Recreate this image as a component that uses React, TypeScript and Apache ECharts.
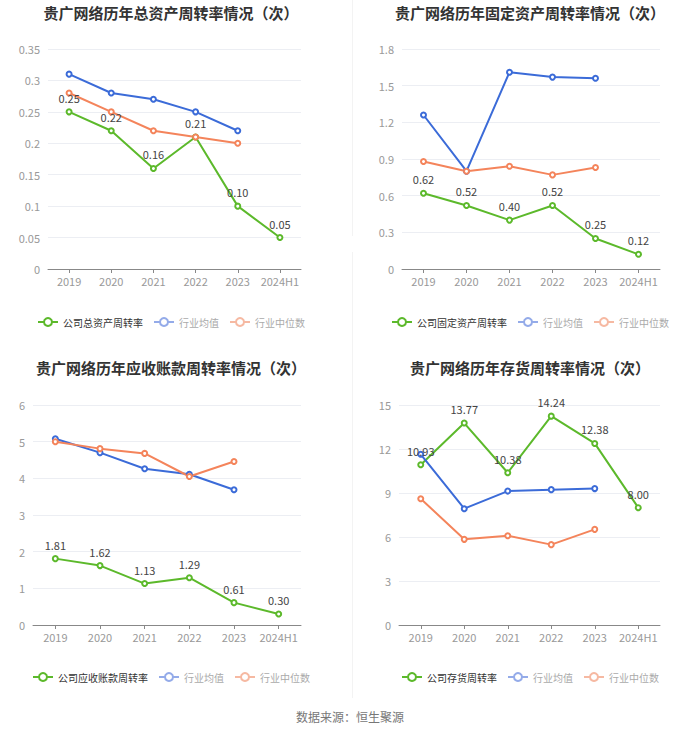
import React, { useEffect, useRef } from "react";
import * as echarts from "echarts";

const categories = ["2019", "2020", "2021", "2022", "2023", "2024H1"];

const totalAssetCompany = [0.25, 0.22, 0.16, 0.21, 0.1, 0.05];
const totalAssetAvg = [0.31, 0.28, 0.27, 0.25, 0.22];
const totalAssetMedian = [0.28, 0.25, 0.22, 0.21, 0.2];

const fixedAssetCompany = [0.62, 0.52, 0.4, 0.52, 0.25, 0.12];
const fixedAssetAvg = [1.26, 0.8, 1.61, 1.57, 1.56];
const fixedAssetMedian = [0.88, 0.8, 0.84, 0.77, 0.83];

const receivableCompany = [1.81, 1.62, 1.13, 1.29, 0.61, 0.3];
const receivableAvg = [5.08, 4.7, 4.26, 4.11, 3.69];
const receivableMedian = [5.0, 4.81, 4.68, 4.05, 4.46];

const inventoryCompany = [10.93, 13.77, 10.38, 14.24, 12.38, 8.0];
const inventoryAvg = [11.64, 7.93, 9.13, 9.23, 9.3];
const inventoryMedian = [8.61, 5.84, 6.09, 5.48, 6.52];

const GREEN = "#5cb92b";
const BLUE = "#3b6bd8";
const ORANGE = "#f4845b";
const FONT = "'Noto Sans CJK SC', 'Noto Sans', sans-serif";

type ChartDef = {
  title: string;
  companyName: string;
  company: number[];
  avg: number[];
  median: number[];
  max: number;
  interval: number;
  box: { left: number; top: number; width: number; height: number };
  grid: { left: number; right: number; top: number; bottom: number };
  titleTop: number;
  legendTop: number;
};

const charts: ChartDef[] = [
  {
    title: "贵广网络历年总资产周转率情况（次）",
    companyName: "公司总资产周转率",
    company: totalAssetCompany,
    avg: totalAssetAvg,
    median: totalAssetMedian,
    max: 0.35,
    interval: 0.05,
    box: { left: 0, top: 0, width: 342, height: 345 },
    grid: { left: 48, right: 41, top: 49, bottom: 76 },
    titleTop: 0,
    legendTop: 312,
  },
  {
    title: "贵广网络历年固定资产周转率情况（次）",
    companyName: "公司固定资产周转率",
    company: fixedAssetCompany,
    avg: fixedAssetAvg,
    median: fixedAssetMedian,
    max: 1.8,
    interval: 0.3,
    box: { left: 360, top: 0, width: 340, height: 345 },
    grid: { left: 42, right: 40, top: 49, bottom: 76 },
    titleTop: 0,
    legendTop: 312,
  },
  {
    title: "贵广网络历年应收账款周转率情况（次）",
    companyName: "公司应收账款周转率",
    company: receivableCompany,
    avg: receivableAvg,
    median: receivableMedian,
    max: 6,
    interval: 1,
    box: { left: 0, top: 345, width: 342, height: 345 },
    grid: { left: 33, right: 41, top: 60, bottom: 65 },
    titleTop: 10,
    legendTop: 322,
  },
  {
    title: "贵广网络历年存货周转率情况（次）",
    companyName: "公司存货周转率",
    company: inventoryCompany,
    avg: inventoryAvg,
    median: inventoryMedian,
    max: 15,
    interval: 3,
    box: { left: 360, top: 345, width: 340, height: 345 },
    grid: { left: 39, right: 40, top: 60, bottom: 65 },
    titleTop: 10,
    legendTop: 322,
  },
];

function buildOption(c: ChartDef): any {
  const lineSeries = (name: string, data: number[], color: string, label: boolean) => ({
    name,
    type: "line",
    data,
    symbol: "emptyCircle",
    symbolSize: 5,
    showSymbol: true,
    lineStyle: { color, width: 2 },
    itemStyle: { color, borderColor: color, borderWidth: 1.5 },
    label: label
      ? {
          show: true,
          position: "top",
          color: "#444",
          fontSize: 11,
          fontFamily: FONT,
          formatter: (p: any) => Number(p.value).toFixed(2),
        }
      : { show: false },
  });
  return {
    animation: false,
    title: {
      text: c.title,
      left: "center",
      top: c.titleTop,
      textStyle: { fontSize: 15, fontWeight: "bold", color: "#333", fontFamily: FONT },
    },
    legend: {
      left: "center",
      top: c.legendTop,
      itemWidth: 20,
      itemHeight: 10,
      itemGap: 10,
      textStyle: { fontSize: 10, fontFamily: FONT, color: "#333" },
      data: [
        { name: c.companyName, textStyle: { color: "#333" } },
        {
          name: "行业均值",
          textStyle: { color: "#aaa" },
          lineStyle: { color: "#94abe9" },
          itemStyle: { color: "#94abe9", borderColor: "#94abe9" },
        },
        {
          name: "行业中位数",
          textStyle: { color: "#aaa" },
          lineStyle: { color: "#f6b9a2" },
          itemStyle: { color: "#f6b9a2", borderColor: "#f6b9a2" },
        },
      ],
    },
    grid: c.grid,
    xAxis: {
      type: "category",
      data: categories,
      boundaryGap: true,
      axisLine: { lineStyle: { color: "#888" } },
      axisTick: { show: true, alignWithLabel: true, interval: 0, length: 4, lineStyle: { color: "#888" } },
      axisLabel: { color: "#999", fontSize: 11, margin: 6, interval: 0, fontFamily: FONT },
    },
    yAxis: {
      type: "value",
      min: 0,
      max: c.max,
      interval: c.interval,
      axisLine: { show: false },
      axisTick: { show: false },
      axisLabel: { color: "#999", fontSize: 11, margin: 8, fontFamily: FONT },
      splitLine: { lineStyle: { color: "#eceef3" } },
    },
    series: [
      lineSeries(c.companyName, c.company, GREEN, true),
      lineSeries("行业均值", c.avg, BLUE, false),
      lineSeries("行业中位数", c.median, ORANGE, false),
    ],
  };
}

function Chart({ def }: { def: ChartDef }) {
  const ref = useRef<HTMLDivElement>(null);
  useEffect(() => {
    if (!ref.current) return;
    const inst = echarts.init(ref.current, undefined, { renderer: "svg" });
    inst.setOption(buildOption(def));
    return () => inst.dispose();
  }, [def]);
  return (
    <div
      ref={ref}
      style={{
        position: "absolute",
        left: def.box.left,
        top: def.box.top,
        width: def.box.width,
        height: def.box.height,
      }}
    />
  );
}

export default function App() {
  return (
    <div
      style={{
        position: "fixed",
        left: 0,
        top: 0,
        width: 700,
        height: 734,
        background: "#fff",
        overflow: "hidden",
      }}
    >
      <div style={{ position: "absolute", left: 352, top: 0, width: 1, height: 236, background: "#f3f3f3" }} />
      <div style={{ position: "absolute", left: 352, top: 252, width: 1, height: 446, background: "#f3f3f3" }} />
      {charts.map((c, i) => (
        <Chart key={i} def={c} />
      ))}
      <div
        style={{
          position: "absolute",
          left: 0,
          top: 709,
          width: 700,
          textAlign: "center",
          fontSize: 12,
          color: "#777",
          fontFamily: FONT,
          lineHeight: "16px",
        }}
      >
        数据来源：恒生聚源
      </div>
    </div>
  );
}
